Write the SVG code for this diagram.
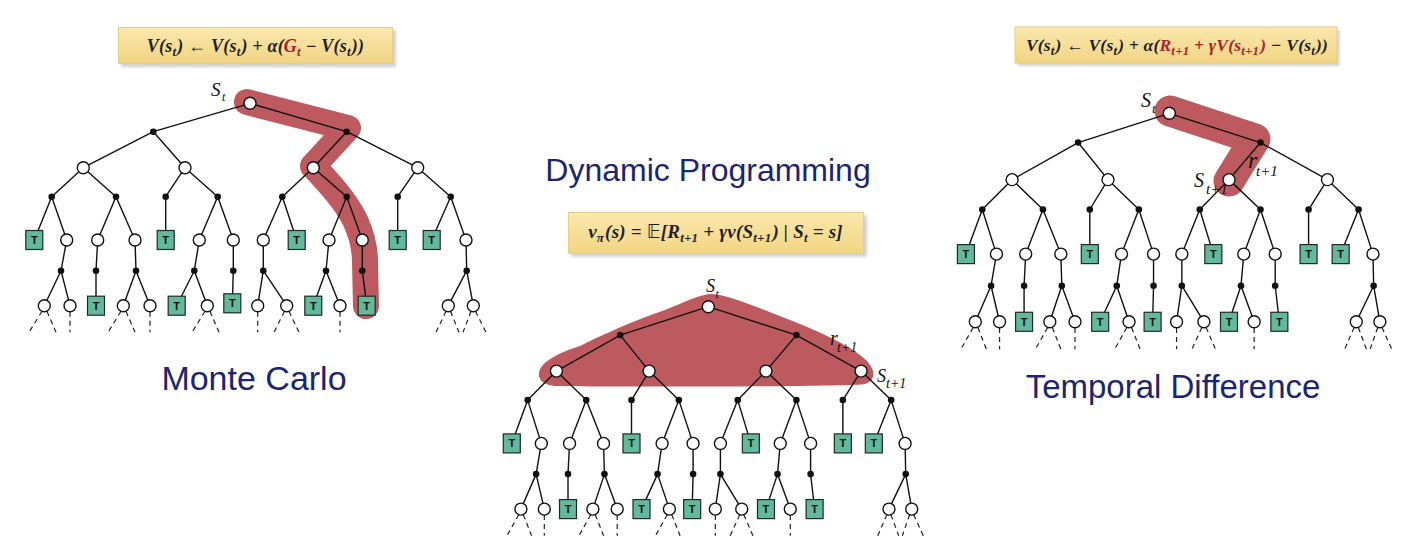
<svg xmlns="http://www.w3.org/2000/svg" xmlns:xlink="http://www.w3.org/1999/xlink" width="1413" height="559" viewBox="0 0 1413 559">
<style>
.ln{stroke:#111;stroke-width:1.4;fill:none;vector-effect:non-scaling-stroke}
.dash{stroke:#222;stroke-width:1.2;stroke-dasharray:5 4;fill:none;vector-effect:non-scaling-stroke}
.oc{fill:#fff;stroke:#111;stroke-width:1.4}
.bd{fill:#111}
.tr{fill:#62b99b;stroke:#1e2a24;stroke-width:1.2}
.tl{font-family:"Liberation Sans",Arial,sans-serif;font-weight:bold;font-size:11px;fill:#111}
.title{font-family:"Liberation Sans",Arial,sans-serif;fill:#1c2570}
.f{font-family:"Liberation Serif","DejaVu Serif","DejaVu Sans",serif;font-weight:bold;font-style:italic;fill:#1f1f1f;letter-spacing:0.2px}
.f18{font-size:18px}
.f19{font-size:19px}
.f175{font-size:17.5px}
.sb{font-size:13px}
.red{fill:#b0222a}
.lb{font-family:"Liberation Serif","DejaVu Serif",serif;font-style:italic;fill:#111}
.blob{fill:none;stroke:#bd5a5f;stroke-linecap:round;stroke-linejoin:round}
.blobf{fill:#bd5a5f}
.box{fill:url(#yg);stroke:#e9cd80;stroke-width:1}
.shadow{fill:#000;opacity:0.18}
</style>
<defs>
<linearGradient id="yg" x1="0" y1="0" x2="0" y2="1">
<stop offset="0" stop-color="#fbe8ad"/>
<stop offset="1" stop-color="#f2d583"/>
</linearGradient>
<filter id="blur" x="-10%" y="-30%" width="120%" height="160%"><feGaussianBlur stdDeviation="1.5"/></filter>
<circle id="oc" class="oc" r="6"/>
<circle id="bd" class="bd" r="3.3"/>
<g id="tt"><rect class="tr" x="-8.5" y="-9.5" width="17" height="19"/><text class="tl" y="4" text-anchor="middle">T</text></g>
<g id="oc2" transform="scale(1.0977,1)"><use href="#oc"/></g>
<g id="bd2" transform="scale(1.0977,1)"><use href="#bd"/></g>
<g id="tt2" transform="scale(1.0977,1)"><use href="#tt"/></g>
<g id="oc3" transform="scale(1.0604,0.9709)"><use href="#oc"/></g>
<g id="bd3" transform="scale(1.0604,0.9709)"><use href="#bd"/></g>
<g id="tt3" transform="scale(1.0604,0.9709)"><use href="#tt"/></g>
</defs>
<rect width="1413" height="559" fill="#fff"/>

<!-- Titles -->
<text class="title" x="254" y="390" font-size="34" text-anchor="middle">Monte Carlo</text>
<text class="title" x="708" y="181" font-size="32" text-anchor="middle">Dynamic Programming</text>
<text class="title" x="1173" y="398" font-size="33" text-anchor="middle">Temporal Difference</text>

<!-- Formula boxes -->
<g id="formula-mc">
<rect class="shadow" x="121" y="30" width="275" height="37" filter="url(#blur)"/>
<rect class="box" x="118.5" y="27.5" width="274" height="36"/>
<text class="f f18" x="255.5" y="51.5" text-anchor="middle">V(s<tspan class="sb" dy="4">t</tspan><tspan dy="-4" dx="1">) ← V(s</tspan><tspan class="sb" dy="4">t</tspan><tspan dy="-4" dx="1">) + α(</tspan><tspan class="red">G</tspan><tspan class="sb red" dy="4">t</tspan><tspan dy="-4"> − V(s</tspan><tspan class="sb" dy="4">t</tspan><tspan dy="-4" dx="1">))</tspan></text>
</g>
<g id="formula-dp">
<rect class="shadow" x="571" y="215.5" width="296" height="41" filter="url(#blur)"/>
<rect class="box" x="568.5" y="212.5" width="295" height="41"/>
<text class="f f19" x="715.5" y="237.5" text-anchor="middle">v<tspan class="sb" dy="4">π</tspan><tspan dy="-4" dx="1">(s) = </tspan><tspan font-style="normal" font-weight="normal" font-family="DejaVu Sans, sans-serif">𝔼</tspan><tspan>[R</tspan><tspan class="sb" dy="4">t+1</tspan><tspan dy="-4"> + γv(S</tspan><tspan class="sb" dy="4">t+1</tspan><tspan dy="-4" dx="1">) | S</tspan><tspan class="sb" dy="4">t</tspan><tspan dy="-4"> = s]</tspan></text>
</g>
<g id="formula-td">
<rect class="shadow" x="1017.5" y="30" width="322" height="36" filter="url(#blur)"/>
<rect class="box" x="1015" y="27" width="322" height="36"/>
<text class="f f175" x="1177" y="51" text-anchor="middle">V(s<tspan class="sb" dy="4">t</tspan><tspan dy="-4" dx="1">) ← V(s</tspan><tspan class="sb" dy="4">t</tspan><tspan dy="-4" dx="1">) + α(</tspan><tspan class="red">R</tspan><tspan class="sb red" dy="4">t+1</tspan><tspan class="red" dy="-4"> + γV(s</tspan><tspan class="sb red" dy="4">t+1</tspan><tspan class="red" dy="-4" dx="1">)</tspan><tspan> − V(s</tspan><tspan class="sb" dy="4">t</tspan><tspan dy="-4" dx="1">))</tspan></text>
</g>

<!-- Highlight blobs -->
<g id="highlights">
<path id="hl-mc" class="blob" stroke-width="26" d="M247 102 L348 128 L313 166 C328 182 345 200 355 220 C363 237 365 250 365 262 L366 306"/>
<path id="hl-dp" class="blobf" d="M539 373 C540 362 560 352 580 346 C600 336 630 322 665 310 C685 302 700 294 712 294 C728 295 760 308 790 320 C820 332 850 345 866 360 C876 370 876 380 865 384 C850 387 600 387 555 386 C544 385 538 380 539 373 Z"/>
<path id="hl-td" class="blob" stroke-width="31" d="M1170 111 L1255 139 L1229 181"/>
</g>

<!-- Connectors -->
<g id="connectors">
<g id="mc-edges" transform="translate(250,103.3)">
<path class="ln" d="M0 0L-96.7 28.4M0 0L96.7 28.4M-96.7 28.4L-166.7 64.4M-96.7 28.4L-65 64.4M96.7 28.4L63.3 64.4M96.7 28.4L167.7 64.4M-166.7 64.4L-198.3 93.4M-166.7 64.4L-134 93.4M-65 64.4L-84.3 93.4M-65 64.4L-32.3 93.4M63.3 64.4L32.3 93.4M63.3 64.4L96.7 93.4M167.7 64.4L147.7 93.4M167.7 64.4L200.7 93.4M-198.3 93.4L-215.7 136.7M-198.3 93.4L-183.3 136.7M-134 93.4L-152.3 136.7M-134 93.4L-115 136.7M-84.3 93.4L-84.3 136.7M-32.3 93.4L-50.7 136.7M-32.3 93.4L-16.7 136.7M32.3 93.4L13.3 136.7M32.3 93.4L46.7 136.7M96.7 93.4L79 136.7M96.7 93.4L112.3 136.7M147.7 93.4L147.7 136.7M200.7 93.4L181.7 136.7M200.7 93.4L216 136.7M-183.3 136.7L-189 167.4M-152.3 136.7L-154 167.4M-115 136.7L-114 167.4M-50.7 136.7L-55.7 167.4M-16.7 136.7L-16.7 167.4M13.3 136.7L13.3 167.4M79 136.7L76 167.4M112.3 136.7L112.3 167.4M216 136.7L216.7 167.4M-189 167.4L-205.7 202.4M-189 167.4L-180 202.4M-154 167.4L-154 202.4M-114 167.4L-126.7 202.4M-114 167.4L-100 202.4M-55.7 167.4L-73.3 202.4M-55.7 167.4L-42.7 202.4M-16.7 167.4L-17.7 202.4M13.3 167.4L7.7 202.4M13.3 167.4L36.7 202.4M76 167.4L63.3 202.4M76 167.4L90 202.4M112.3 167.4L116.7 202.4M216.7 167.4L198.3 202.4M216.7 167.4L223.3 202.4"/>
<path class="dash" d="M-208 208L-221 229M-203 208L-194 229M-180 208.4L-180 229M-129 208L-142 229M-124 208L-115 229M-100 208.4L-100 229M-45 208L-58 229M-40 208L-31 229M7.7 208.4L7.7 229M34.5 208L24 229M39 208L49 229M90 208.4L90 229M196 208L186 229M200.5 208L209 229M221 208L213 229M225.5 208L236 229"/>
</g>
<g id="dp-edges" transform="translate(708.3,306.7) scale(0.911,1)">
<path class="ln" d="M0 0L-96.7 28.4M0 0L96.7 28.4M-96.7 28.4L-166.7 64.4M-96.7 28.4L-65 64.4M96.7 28.4L63.3 64.4M96.7 28.4L167.7 64.4M-166.7 64.4L-198.3 93.4M-166.7 64.4L-134 93.4M-65 64.4L-84.3 93.4M-65 64.4L-32.3 93.4M63.3 64.4L32.3 93.4M63.3 64.4L96.7 93.4M167.7 64.4L147.7 93.4M167.7 64.4L200.7 93.4M-198.3 93.4L-215.7 136.7M-198.3 93.4L-183.3 136.7M-134 93.4L-152.3 136.7M-134 93.4L-115 136.7M-84.3 93.4L-84.3 136.7M-32.3 93.4L-50.7 136.7M-32.3 93.4L-16.7 136.7M32.3 93.4L13.3 136.7M32.3 93.4L46.7 136.7M96.7 93.4L79 136.7M96.7 93.4L112.3 136.7M147.7 93.4L147.7 136.7M200.7 93.4L181.7 136.7M200.7 93.4L216 136.7M-183.3 136.7L-189 167.4M-152.3 136.7L-154 167.4M-115 136.7L-114 167.4M-50.7 136.7L-55.7 167.4M-16.7 136.7L-16.7 167.4M13.3 136.7L13.3 167.4M79 136.7L76 167.4M112.3 136.7L112.3 167.4M216 136.7L216.7 167.4M-189 167.4L-205.7 202.4M-189 167.4L-180 202.4M-154 167.4L-154 202.4M-114 167.4L-126.7 202.4M-114 167.4L-100 202.4M-55.7 167.4L-73.3 202.4M-55.7 167.4L-42.7 202.4M-16.7 167.4L-17.7 202.4M13.3 167.4L7.7 202.4M13.3 167.4L36.7 202.4M76 167.4L63.3 202.4M76 167.4L90 202.4M112.3 167.4L116.7 202.4M216.7 167.4L198.3 202.4M216.7 167.4L223.3 202.4"/>
<path class="dash" d="M-208 208L-221 229M-203 208L-194 229M-180 208.4L-180 229M-129 208L-142 229M-124 208L-115 229M-100 208.4L-100 229M-45 208L-58 229M-40 208L-31 229M7.7 208.4L7.7 229M34.5 208L24 229M39 208L49 229M90 208.4L90 229M196 208L186 229M200.5 208L209 229M221 208L213 229M225.5 208L236 229"/>
</g>
<g id="td-edges" transform="translate(1169.3,113.3) scale(0.943,1.03)">
<path class="ln" d="M0 0L-96.7 28.4M0 0L96.7 28.4M-96.7 28.4L-166.7 64.4M-96.7 28.4L-65 64.4M96.7 28.4L63.3 64.4M96.7 28.4L167.7 64.4M-166.7 64.4L-198.3 93.4M-166.7 64.4L-134 93.4M-65 64.4L-84.3 93.4M-65 64.4L-32.3 93.4M63.3 64.4L32.3 93.4M63.3 64.4L96.7 93.4M167.7 64.4L147.7 93.4M167.7 64.4L200.7 93.4M-198.3 93.4L-215.7 136.7M-198.3 93.4L-183.3 136.7M-134 93.4L-152.3 136.7M-134 93.4L-115 136.7M-84.3 93.4L-84.3 136.7M-32.3 93.4L-50.7 136.7M-32.3 93.4L-16.7 136.7M32.3 93.4L13.3 136.7M32.3 93.4L46.7 136.7M96.7 93.4L79 136.7M96.7 93.4L112.3 136.7M147.7 93.4L147.7 136.7M200.7 93.4L181.7 136.7M200.7 93.4L216 136.7M-183.3 136.7L-189 167.4M-152.3 136.7L-154 167.4M-115 136.7L-114 167.4M-50.7 136.7L-55.7 167.4M-16.7 136.7L-16.7 167.4M13.3 136.7L13.3 167.4M79 136.7L76 167.4M112.3 136.7L112.3 167.4M216 136.7L216.7 167.4M-189 167.4L-205.7 202.4M-189 167.4L-180 202.4M-154 167.4L-154 202.4M-114 167.4L-126.7 202.4M-114 167.4L-100 202.4M-55.7 167.4L-73.3 202.4M-55.7 167.4L-42.7 202.4M-16.7 167.4L-17.7 202.4M13.3 167.4L7.7 202.4M13.3 167.4L36.7 202.4M76 167.4L63.3 202.4M76 167.4L90 202.4M112.3 167.4L116.7 202.4M216.7 167.4L198.3 202.4M216.7 167.4L223.3 202.4"/>
<path class="dash" d="M-208 208L-221 229M-203 208L-194 229M-180 208.4L-180 229M-129 208L-142 229M-124 208L-115 229M-100 208.4L-100 229M-45 208L-58 229M-40 208L-31 229M7.7 208.4L7.7 229M34.5 208L24 229M39 208L49 229M90 208.4L90 229M196 208L186 229M200.5 208L209 229M221 208L213 229M225.5 208L236 229"/>
</g>
</g>

<!-- Monte Carlo tree nodes -->
<g id="mc-tree" transform="translate(250,103.3)">
<g id="mc-R" transform="translate(0,0)"><use href="#oc"/></g>
<g id="mc-a1" transform="translate(-96.7,28.4)"><use href="#bd"/></g>
<g id="mc-a2" transform="translate(96.7,28.4)"><use href="#bd"/></g>
<g id="mc-s1" transform="translate(-166.7,64.4)"><use href="#oc"/></g>
<g id="mc-s2" transform="translate(-65,64.4)"><use href="#oc"/></g>
<g id="mc-s3" transform="translate(63.3,64.4)"><use href="#oc"/></g>
<g id="mc-s4" transform="translate(167.7,64.4)"><use href="#oc"/></g>
<g id="mc-b1" transform="translate(-198.3,93.4)"><use href="#bd"/></g>
<g id="mc-b2" transform="translate(-134,93.4)"><use href="#bd"/></g>
<g id="mc-b3" transform="translate(-84.3,93.4)"><use href="#bd"/></g>
<g id="mc-b4" transform="translate(-32.3,93.4)"><use href="#bd"/></g>
<g id="mc-b5" transform="translate(32.3,93.4)"><use href="#bd"/></g>
<g id="mc-b6" transform="translate(96.7,93.4)"><use href="#bd"/></g>
<g id="mc-b7" transform="translate(147.7,93.4)"><use href="#bd"/></g>
<g id="mc-b8" transform="translate(200.7,93.4)"><use href="#bd"/></g>
<g id="mc-u1" transform="translate(-215.7,136.7)"><use href="#tt"/></g>
<g id="mc-u2" transform="translate(-183.3,136.7)"><use href="#oc"/></g>
<g id="mc-u3" transform="translate(-152.3,136.7)"><use href="#oc"/></g>
<g id="mc-u4" transform="translate(-115,136.7)"><use href="#oc"/></g>
<g id="mc-u5" transform="translate(-84.3,136.7)"><use href="#tt"/></g>
<g id="mc-u6" transform="translate(-50.7,136.7)"><use href="#oc"/></g>
<g id="mc-u7" transform="translate(-16.7,136.7)"><use href="#oc"/></g>
<g id="mc-u8" transform="translate(13.3,136.7)"><use href="#oc"/></g>
<g id="mc-u9" transform="translate(46.7,136.7)"><use href="#tt"/></g>
<g id="mc-u10" transform="translate(79,136.7)"><use href="#oc"/></g>
<g id="mc-u11" transform="translate(112.3,136.7)"><use href="#oc"/></g>
<g id="mc-u12" transform="translate(147.7,136.7)"><use href="#tt"/></g>
<g id="mc-u13" transform="translate(181.7,136.7)"><use href="#tt"/></g>
<g id="mc-u14" transform="translate(216,136.7)"><use href="#oc"/></g>
<g id="mc-c1" transform="translate(-189,167.4)"><use href="#bd"/></g>
<g id="mc-c2" transform="translate(-154,167.4)"><use href="#bd"/></g>
<g id="mc-c3" transform="translate(-114,167.4)"><use href="#bd"/></g>
<g id="mc-c4" transform="translate(-55.7,167.4)"><use href="#bd"/></g>
<g id="mc-c5" transform="translate(-16.7,167.4)"><use href="#bd"/></g>
<g id="mc-c6" transform="translate(13.3,167.4)"><use href="#bd"/></g>
<g id="mc-c7" transform="translate(76,167.4)"><use href="#bd"/></g>
<g id="mc-c8" transform="translate(112.3,167.4)"><use href="#bd"/></g>
<g id="mc-c9" transform="translate(216.7,167.4)"><use href="#bd"/></g>
<g id="mc-w1" transform="translate(-205.7,202.4)"><use href="#oc"/></g>
<g id="mc-w2" transform="translate(-180,202.4)"><use href="#oc"/></g>
<g id="mc-w3" transform="translate(-154,202.4)"><use href="#tt"/></g>
<g id="mc-w4" transform="translate(-126.7,202.4)"><use href="#oc"/></g>
<g id="mc-w5" transform="translate(-100,202.4)"><use href="#oc"/></g>
<g id="mc-w6" transform="translate(-73.3,202.4)"><use href="#tt"/></g>
<g id="mc-w7" transform="translate(-42.7,202.4)"><use href="#oc"/></g>
<g id="mc-w8" transform="translate(-17.7,200)"><use href="#tt"/></g>
<g id="mc-w9" transform="translate(7.7,202.4)"><use href="#oc"/></g>
<g id="mc-w10" transform="translate(36.7,202.4)"><use href="#oc"/></g>
<g id="mc-w11" transform="translate(63.3,202.4)"><use href="#tt"/></g>
<g id="mc-w12" transform="translate(90,202.4)"><use href="#oc"/></g>
<g id="mc-w13" transform="translate(116.7,202.4)"><use href="#tt"/></g>
<g id="mc-w14" transform="translate(198.3,202.4)"><use href="#oc"/></g>
<g id="mc-w15" transform="translate(223.3,202.4)"><use href="#oc"/></g>
</g>

<!-- Dynamic Programming tree nodes -->
<g id="dp-tree" transform="translate(708.3,306.7) scale(0.911,1)">
<g id="dp-R" transform="translate(0,0)"><use href="#oc2"/></g>
<g id="dp-a1" transform="translate(-96.7,28.4)"><use href="#bd2"/></g>
<g id="dp-a2" transform="translate(96.7,28.4)"><use href="#bd2"/></g>
<g id="dp-s1" transform="translate(-166.7,64.4)"><use href="#oc2"/></g>
<g id="dp-s2" transform="translate(-65,64.4)"><use href="#oc2"/></g>
<g id="dp-s3" transform="translate(63.3,64.4)"><use href="#oc2"/></g>
<g id="dp-s4" transform="translate(167.7,64.4)"><use href="#oc2"/></g>
<g id="dp-b1" transform="translate(-198.3,93.4)"><use href="#bd2"/></g>
<g id="dp-b2" transform="translate(-134,93.4)"><use href="#bd2"/></g>
<g id="dp-b3" transform="translate(-84.3,93.4)"><use href="#bd2"/></g>
<g id="dp-b4" transform="translate(-32.3,93.4)"><use href="#bd2"/></g>
<g id="dp-b5" transform="translate(32.3,93.4)"><use href="#bd2"/></g>
<g id="dp-b6" transform="translate(96.7,93.4)"><use href="#bd2"/></g>
<g id="dp-b7" transform="translate(147.7,93.4)"><use href="#bd2"/></g>
<g id="dp-b8" transform="translate(200.7,93.4)"><use href="#bd2"/></g>
<g id="dp-u1" transform="translate(-215.7,136.7)"><use href="#tt2"/></g>
<g id="dp-u2" transform="translate(-183.3,136.7)"><use href="#oc2"/></g>
<g id="dp-u3" transform="translate(-152.3,136.7)"><use href="#oc2"/></g>
<g id="dp-u4" transform="translate(-115,136.7)"><use href="#oc2"/></g>
<g id="dp-u5" transform="translate(-84.3,136.7)"><use href="#tt2"/></g>
<g id="dp-u6" transform="translate(-50.7,136.7)"><use href="#oc2"/></g>
<g id="dp-u7" transform="translate(-16.7,136.7)"><use href="#oc2"/></g>
<g id="dp-u8" transform="translate(13.3,136.7)"><use href="#oc2"/></g>
<g id="dp-u9" transform="translate(46.7,136.7)"><use href="#tt2"/></g>
<g id="dp-u10" transform="translate(79,136.7)"><use href="#oc2"/></g>
<g id="dp-u11" transform="translate(112.3,136.7)"><use href="#oc2"/></g>
<g id="dp-u12" transform="translate(147.7,136.7)"><use href="#tt2"/></g>
<g id="dp-u13" transform="translate(181.7,136.7)"><use href="#tt2"/></g>
<g id="dp-u14" transform="translate(216,136.7)"><use href="#oc2"/></g>
<g id="dp-c1" transform="translate(-189,167.4)"><use href="#bd2"/></g>
<g id="dp-c2" transform="translate(-154,167.4)"><use href="#bd2"/></g>
<g id="dp-c3" transform="translate(-114,167.4)"><use href="#bd2"/></g>
<g id="dp-c4" transform="translate(-55.7,167.4)"><use href="#bd2"/></g>
<g id="dp-c5" transform="translate(-16.7,167.4)"><use href="#bd2"/></g>
<g id="dp-c6" transform="translate(13.3,167.4)"><use href="#bd2"/></g>
<g id="dp-c7" transform="translate(76,167.4)"><use href="#bd2"/></g>
<g id="dp-c8" transform="translate(112.3,167.4)"><use href="#bd2"/></g>
<g id="dp-c9" transform="translate(216.7,167.4)"><use href="#bd2"/></g>
<g id="dp-w1" transform="translate(-205.7,202.4)"><use href="#oc2"/></g>
<g id="dp-w2" transform="translate(-180,202.4)"><use href="#oc2"/></g>
<g id="dp-w3" transform="translate(-154,202.4)"><use href="#tt2"/></g>
<g id="dp-w4" transform="translate(-126.7,202.4)"><use href="#oc2"/></g>
<g id="dp-w5" transform="translate(-100,202.4)"><use href="#oc2"/></g>
<g id="dp-w6" transform="translate(-73.3,202.4)"><use href="#tt2"/></g>
<g id="dp-w7" transform="translate(-42.7,202.4)"><use href="#oc2"/></g>
<g id="dp-w8" transform="translate(-17.7,202.4)"><use href="#tt2"/></g>
<g id="dp-w9" transform="translate(7.7,202.4)"><use href="#oc2"/></g>
<g id="dp-w10" transform="translate(36.7,202.4)"><use href="#oc2"/></g>
<g id="dp-w11" transform="translate(63.3,202.4)"><use href="#tt2"/></g>
<g id="dp-w12" transform="translate(90,202.4)"><use href="#oc2"/></g>
<g id="dp-w13" transform="translate(116.7,202.4)"><use href="#tt2"/></g>
<g id="dp-w14" transform="translate(198.3,202.4)"><use href="#oc2"/></g>
<g id="dp-w15" transform="translate(223.3,202.4)"><use href="#oc2"/></g>
</g>

<!-- Temporal Difference tree nodes -->
<g id="td-tree" transform="translate(1169.3,113.3) scale(0.943,1.03)">
<g id="td-R" transform="translate(0,0)"><use href="#oc3"/></g>
<g id="td-a1" transform="translate(-96.7,28.4)"><use href="#bd3"/></g>
<g id="td-a2" transform="translate(96.7,28.4)"><use href="#bd3"/></g>
<g id="td-s1" transform="translate(-166.7,64.4)"><use href="#oc3"/></g>
<g id="td-s2" transform="translate(-65,64.4)"><use href="#oc3"/></g>
<g id="td-s3" transform="translate(63.3,64.4)"><use href="#oc3"/></g>
<g id="td-s4" transform="translate(167.7,64.4)"><use href="#oc3"/></g>
<g id="td-b1" transform="translate(-198.3,93.4)"><use href="#bd3"/></g>
<g id="td-b2" transform="translate(-134,93.4)"><use href="#bd3"/></g>
<g id="td-b3" transform="translate(-84.3,93.4)"><use href="#bd3"/></g>
<g id="td-b4" transform="translate(-32.3,93.4)"><use href="#bd3"/></g>
<g id="td-b5" transform="translate(32.3,93.4)"><use href="#bd3"/></g>
<g id="td-b6" transform="translate(96.7,93.4)"><use href="#bd3"/></g>
<g id="td-b7" transform="translate(147.7,93.4)"><use href="#bd3"/></g>
<g id="td-b8" transform="translate(200.7,93.4)"><use href="#bd3"/></g>
<g id="td-u1" transform="translate(-215.7,136.7)"><use href="#tt3"/></g>
<g id="td-u2" transform="translate(-183.3,136.7)"><use href="#oc3"/></g>
<g id="td-u3" transform="translate(-152.3,136.7)"><use href="#oc3"/></g>
<g id="td-u4" transform="translate(-115,136.7)"><use href="#oc3"/></g>
<g id="td-u5" transform="translate(-84.3,136.7)"><use href="#tt3"/></g>
<g id="td-u6" transform="translate(-50.7,136.7)"><use href="#oc3"/></g>
<g id="td-u7" transform="translate(-16.7,136.7)"><use href="#oc3"/></g>
<g id="td-u8" transform="translate(13.3,136.7)"><use href="#oc3"/></g>
<g id="td-u9" transform="translate(46.7,136.7)"><use href="#tt3"/></g>
<g id="td-u10" transform="translate(79,136.7)"><use href="#oc3"/></g>
<g id="td-u11" transform="translate(112.3,136.7)"><use href="#oc3"/></g>
<g id="td-u12" transform="translate(147.7,136.7)"><use href="#tt3"/></g>
<g id="td-u13" transform="translate(181.7,136.7)"><use href="#tt3"/></g>
<g id="td-u14" transform="translate(216,136.7)"><use href="#oc3"/></g>
<g id="td-c1" transform="translate(-189,167.4)"><use href="#bd3"/></g>
<g id="td-c2" transform="translate(-154,167.4)"><use href="#bd3"/></g>
<g id="td-c3" transform="translate(-114,167.4)"><use href="#bd3"/></g>
<g id="td-c4" transform="translate(-55.7,167.4)"><use href="#bd3"/></g>
<g id="td-c5" transform="translate(-16.7,167.4)"><use href="#bd3"/></g>
<g id="td-c6" transform="translate(13.3,167.4)"><use href="#bd3"/></g>
<g id="td-c7" transform="translate(76,167.4)"><use href="#bd3"/></g>
<g id="td-c8" transform="translate(112.3,167.4)"><use href="#bd3"/></g>
<g id="td-c9" transform="translate(216.7,167.4)"><use href="#bd3"/></g>
<g id="td-w1" transform="translate(-205.7,202.4)"><use href="#oc3"/></g>
<g id="td-w2" transform="translate(-180,202.4)"><use href="#oc3"/></g>
<g id="td-w3" transform="translate(-154,202.4)"><use href="#tt3"/></g>
<g id="td-w4" transform="translate(-126.7,202.4)"><use href="#oc3"/></g>
<g id="td-w5" transform="translate(-100,202.4)"><use href="#oc3"/></g>
<g id="td-w6" transform="translate(-73.3,202.4)"><use href="#tt3"/></g>
<g id="td-w7" transform="translate(-42.7,202.4)"><use href="#oc3"/></g>
<g id="td-w8" transform="translate(-17.7,202.4)"><use href="#tt3"/></g>
<g id="td-w9" transform="translate(7.7,202.4)"><use href="#oc3"/></g>
<g id="td-w10" transform="translate(36.7,202.4)"><use href="#oc3"/></g>
<g id="td-w11" transform="translate(63.3,202.4)"><use href="#tt3"/></g>
<g id="td-w12" transform="translate(90,202.4)"><use href="#oc3"/></g>
<g id="td-w13" transform="translate(116.7,202.4)"><use href="#tt3"/></g>
<g id="td-w14" transform="translate(198.3,202.4)"><use href="#oc3"/></g>
<g id="td-w15" transform="translate(223.3,202.4)"><use href="#oc3"/></g>
</g>

<!-- Node labels -->
<g id="labels">
<text class="lb" x="211" y="96" font-size="19">S</text><text class="lb" x="222" y="101" font-size="12">t</text>
<text class="lb" x="706" y="292" font-size="18">S</text><text class="lb" x="715.5" y="297.5" font-size="12">t</text>
<text class="lb" x="830" y="345" font-size="20">r</text><text class="lb" x="837" y="352" font-size="14">t+1</text>
<text class="lb" x="877" y="382" font-size="18">S</text><text class="lb" x="886" y="388" font-size="14">t+1</text>
<text class="lb" x="1141" y="107" font-size="20">S</text><text class="lb" x="1152" y="113" font-size="13">t</text>
<text class="lb" x="1248" y="168" font-size="24">r</text><text class="lb" x="1256" y="176" font-size="15">t+1</text>
<text class="lb" x="1194" y="187" font-size="20">S</text><text class="lb" x="1206" y="194" font-size="15">t+1</text>
</g>
</svg>
